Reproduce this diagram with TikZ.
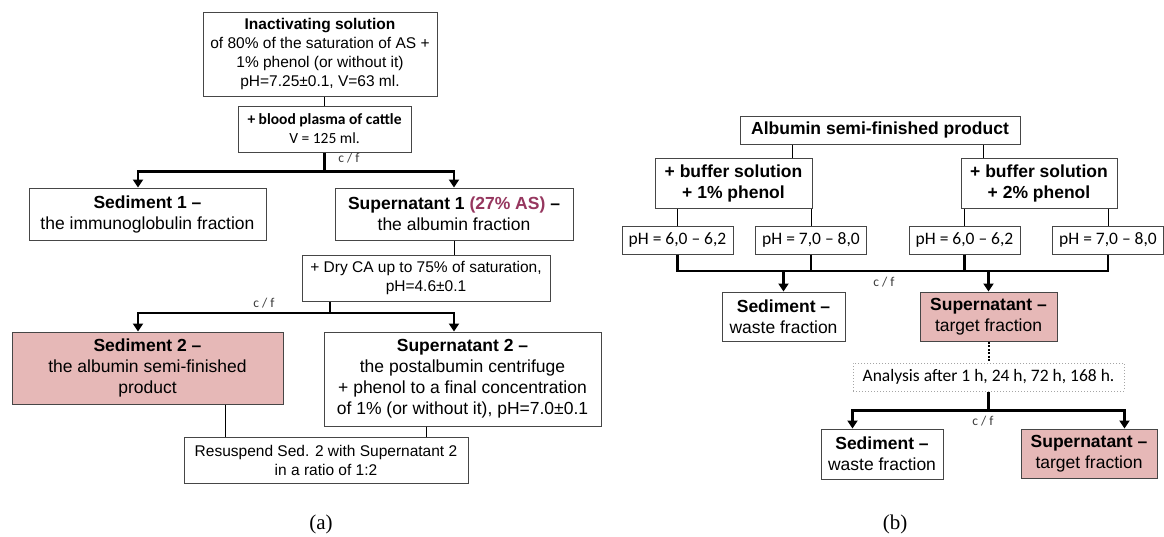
\documentclass[tikz,border=0pt]{standalone}
\usepackage{fontspec}
\setmainfont{Liberation Sans}
\newfontfamily\calfont{Carlito}
\newfontfamily\capfont{Liberation Serif}
\usepackage{xcolor}
\usetikzlibrary{arrows.meta, positioning}
\definecolor{boxgray}{RGB}{70, 70, 70}
\definecolor{targetpink}{RGB}{230, 184, 183}
\definecolor{asmauve}{RGB}{150, 55, 95}
\definecolor{dotgray}{RGB}{165, 165, 165}
\definecolor{cfgray}{RGB}{60, 60, 60}
\newcommand{\bigtext}{\fontsize{17.5}{21}\selectfont}
\newcommand{\midtext}{\fontsize{15.5}{19}\selectfont}
\newcommand{\caltext}{\calfont\fontsize{17.5}{20}\selectfont}

\begin{document}
\begin{tikzpicture}[
    x=1pt, y=-1pt, >={Triangle[length=8pt, width=10pt]},
    box/.style={rectangle, draw=boxgray, fill=white, line width=1pt, inner sep=2pt, align=center, font=\bigtext},
    pinkbox/.style={box, fill=targetpink},
    phbox/.style={box, font=\caltext, minimum width=111pt, minimum height=28pt},
    anabox/.style={box, draw=dotgray, dotted, font=\caltext},
    line/.style={draw, line width=0.9pt, black},
    thickbar/.style={draw, line width=2.4pt, black},
    dotline/.style={draw, line width=2pt, black, dash pattern=on 2pt off 1.5pt},
    cf/.style={font=\calfont\fontsize{13.5}{15}\selectfont, text=cfgray, inner sep=1pt}
  ]
    \useasboundingbox (0,0) rectangle (1164,536);

    % (a)
    \node (sol) [box, font=\midtext, minimum width=234pt, minimum height=84pt] at (320,54) {\textbf{Inactivating solution}\\of 80\% of the saturation of AS +\\1\% phenol (or without it)\\pH=7.25±0.1, V=63 ml.};
    \node (plasma) [box, font=\calfont\fontsize{15.5}{19}\selectfont, minimum width=173pt, minimum height=46pt] at (324.5,129) {\textbf{+ blood plasma of cattle}\\V = 125 ml.};
    \node (sed1) [box, minimum width=237pt, minimum height=52pt] at (147.5,214) {\textbf{Sediment 1 –}\\the immunoglobulin fraction};
    \node (sup1) [box, minimum width=238pt, minimum height=52pt] at (454,214) {\textbf{Supernatant 1 \textcolor{asmauve}{(27\% AS)} –}\\the albumin fraction};
    \node (dry) [box, font=\midtext, minimum width=248pt, minimum height=46pt] at (426,278) {+ Dry CA up to 75\% of saturation,\\pH=4.6±0.1};
    \node (sed2) [pinkbox, minimum width=271pt, minimum height=72pt] at (147.5,368) {\textbf{Sediment 2 –}\\the albumin semi-finished\\product};
    \node (sup2) [box, minimum width=277pt, minimum height=94pt] at (462.5,379) {\textbf{Supernatant 2 –}\\the postalbumin centrifuge\\+ phenol to a final concentration\\of 1\% (or without it), pH=7.0±0.1};
    \node (resusp) [box, font=\midtext, minimum width=284pt, minimum height=46pt] at (326,460) {Resuspend Sed. 2 with Supernatant 2\\in a ratio of 1:2};
    \node (cfa1) [cf] at (349,158) {c / f};
    \node (cfa2) [cf] at (264,303) {c / f};
    \coordinate (j1) at ([yshift=-19pt]plasma.south);
    \coordinate (j2) at (330,313);

    \draw[line] (plasma.north) -- (plasma.north |- sol.south);
    \draw[thickbar] (plasma.south) -- (j1);
    \draw[thickbar, ->] (j1) -| ([xshift=-9.5pt]sed1.north);
    \draw[thickbar, ->] (j1) -| (sup1.north);
    \draw[line] (sup1.south) -- (sup1.south |- dry.north);
    \draw[thickbar] (j2 |- dry.south) -- (j2);
    \draw[thickbar, ->] (j2) -| ([xshift=-9.5pt]sed2.north);
    \draw[thickbar, ->] (j2) -| ([xshift=-8.5pt]sup2.north);
    \draw[line] ([xshift=77.5pt]sed2.south) -- ([xshift=77.5pt]sed2.south |- resusp.north);
    \draw[line] ([xshift=-36.5pt]sup2.south) -- ([xshift=-36.5pt]sup2.south |- resusp.north);

    % (b)
    \node (alb) [box, font=\bigtext\bfseries, minimum width=280pt, minimum height=28pt] at (880,130) {Albumin semi-finished product};
    \node (buf1) [box, font=\bigtext\bfseries, minimum width=157pt, minimum height=50pt] at (733.5,183.5) {+ buffer solution\\+ 1\% phenol};
    \node (buf2) [box, font=\bigtext\bfseries, minimum width=156pt, minimum height=50pt] at (1039,183.5) {+ buffer solution\\+ 2\% phenol};
    \node (ph1) [phbox] at (677.5,240) {pH = 6,0 – 6,2};
    \node (ph2) [phbox] at (811,240) {pH = 7,0 – 8,0};
    \node (ph3) [phbox] at (964.5,240) {pH = 6,0 – 6,2};
    \node (ph4) [phbox] at (1108,240) {pH = 7,0 – 8,0};
    \node (sedb) [box, minimum width=123pt, minimum height=49pt] at (783.5,316.5) {\textbf{Sediment –}\\waste fraction};
    \node (supb) [pinkbox, minimum width=137pt, minimum height=49pt] at (988.5,316.5) {\textbf{Supernatant –}\\target fraction};
    \node (ana) [anabox, minimum width=271pt, minimum height=28pt] at (988.5,377) {Analysis after 1 h, 24 h, 72 h, 168 h.};
    \node (sedc) [box, minimum width=122pt, minimum height=50pt] at (882,454) {\textbf{Sediment –}\\waste fraction};
    \node (supc) [pinkbox, minimum width=136pt, minimum height=49pt] at (1089,453.5) {\textbf{Supernatant –}\\target fraction};
    \node (cfb1) [cf] at (884,282) {c / f};
    \node (cfb2) [cf] at (983,421) {c / f};
    \coordinate (k1) at (783.5,271);
    \coordinate (k2) at (988.5,271);
    \coordinate (k3) at ([yshift=-19pt]ana.south);

    \draw[line] ([xshift=58.5pt]buf1.north) -- ([xshift=58.5pt]buf1.north |- alb.south);
    \draw[line] ([xshift=-56pt]buf2.north) -- ([xshift=-56pt]buf2.north |- alb.south);
    \draw[line] (ph1.north) -- (ph1.north |- buf1.south);
    \draw[line] (ph2.north) -- (ph2.north |- buf1.south);
    \draw[line] (ph3.north) -- (ph3.north |- buf2.south);
    \draw[line] (ph4.north) -- (ph4.north |- buf2.south);
    \draw[thickbar] (ph1.south) |- (k1) -- (k2) -| (ph4.south);
    \draw[thickbar] (ph2.south) -- (ph2.south |- k1);
    \draw[thickbar] (ph3.south) -- (ph3.south |- k1);
    \draw[thickbar, ->] (k1) -- (sedb.north);
    \draw[thickbar, ->] (k2) -- (supb.north);
    \draw[dotline] (supb.south) -- (ana.north);
    \draw[thickbar] (ana.south) -- (k3);
    \draw[thickbar, ->] (k3) -| (sedc.north -| ana.west);
    \draw[thickbar, ->] (k3) -| (supc.north -| ana.east);

    \node (capa) [font=\capfont\fontsize{21}{25}\selectfont] at (321,524) {(a)};
    \node (capb) [font=\capfont\fontsize{21}{25}\selectfont] at (895,524) {(b)};
  \end{tikzpicture}
\end{document}
